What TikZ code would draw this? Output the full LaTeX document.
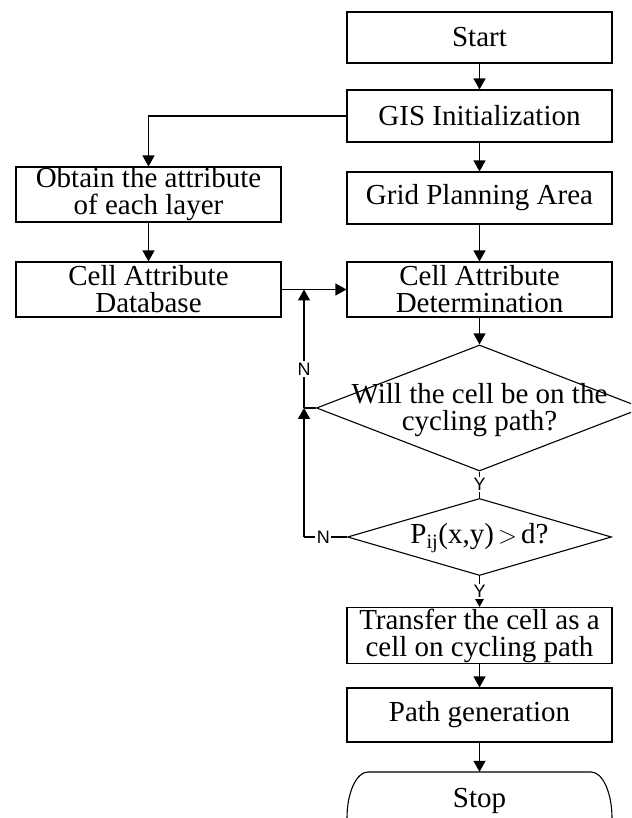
\documentclass[tikz,border=0pt]{standalone}
\usepackage{fontspec}
\setmainfont{Liberation Serif}
\newfontfamily\labelsans{Liberation Sans}
\usetikzlibrary{shapes.geometric,arrows.meta}
\begin{document}
\begin{tikzpicture}[x=1pt,y=1pt,
  txt/.style={font=\fontsize{29}{27}\selectfont},
  box/.style={draw, line width=1.1pt, minimum width=265pt, inner sep=0pt,
    align=center, txt},
  decision/.style={draw, diamond, inner sep=0pt, line width=1.1pt},
  qtext/.style={align=center, txt},
  flow/.style={draw, line width=1.2pt, -{Triangle[length=11pt,width=12pt]}},
  link/.style={draw, line width=1.2pt},
  yn/.style={fill=white, inner sep=1.5pt, font=\labelsans\fontsize{18}{18}\selectfont}
]
\useasboundingbox (0,0) rectangle (631,818);
\clip (0,0) rectangle (631,818);

% process boxes
\node[box, minimum height=51pt] (start) at (479.5,780.5) {Start};
\node[box, minimum height=52pt] (gis) at (479.5,702) {GIS Initialization};
\node[box, minimum height=55pt] (obtain) at (148.5,623.5) {Obtain the attribute\\of each layer};
\node[box, minimum height=52pt] (grid) at (479.5,620) {Grid Planning Area};
\node[box, minimum height=55pt] (db) at (148.5,528.5) {Cell Attribute\\Database};
\node[box, minimum height=55pt] (det) at (479.5,528.5) {Cell Attribute\\Determination};

% decisions
\node[decision, minimum width=326pt, minimum height=126pt] (q1) at (479.5,410) {};
\node[qtext] (q1t) at (479.5,408) {Will the cell be on the\\cycling path?};
\node[decision, minimum width=264pt, minimum height=77pt] (q2) at (479.5,281) {};
\node[qtext] (q2t) at (479.5,280) {P\textsubscript{ij}(x,y)$\,>\,$d?};

\node[box, minimum height=56pt] (transfer) at (479.5,182.5) {Transfer the cell as a\\cell on cycling path};
\node[box, minimum height=54pt] (pathgen) at (479.5,103) {Path generation};

% terminator
\node[minimum width=265pt, minimum height=58pt, inner sep=0pt, txt] (stop) at (479.5,17) {Stop};
\draw[link, line width=1.1pt] (347,-30) -- (347,0)
  arc[start angle=180, end angle=90, x radius=21pt, y radius=46pt]
  -- (591,46)
  arc[start angle=90, end angle=0, x radius=21pt, y radius=46pt]
  -- (612,-30);

% main flow
\draw[flow] (start) -- (gis);
\draw[flow] (gis) -- (grid);
\draw[flow] (gis.west) -| (obtain.north);
\draw[flow] (obtain) -- (db);
\draw[flow] (grid) -- (det);
\draw[flow] (db) -- (det);
\draw[flow] (det) -- (q1.north);
\draw[link] (q1.south) -- node[yn] {Y} (q2.north);
\draw[flow] (q2.south) -- node[yn] {Y} (transfer.north);
\draw[flow] (transfer) -- (pathgen);
\draw[flow] (pathgen.south) -- (stop.north);

% "no" loops back to the attribute determination
\coordinate (jup) at (304,528.5);
\coordinate (jmid) at (304,410);
\coordinate (jlow) at (304,281);
\draw[link] (q1.west) -- (jmid);
\draw[flow] (jmid) -- node[yn, pos=0.33] {N} (jup);
\draw[link] (q2.west) -- node[yn, pos=0.55] {N} (jlow);
\draw[flow] (jlow) -- (jmid);
\end{tikzpicture}
\end{document}
